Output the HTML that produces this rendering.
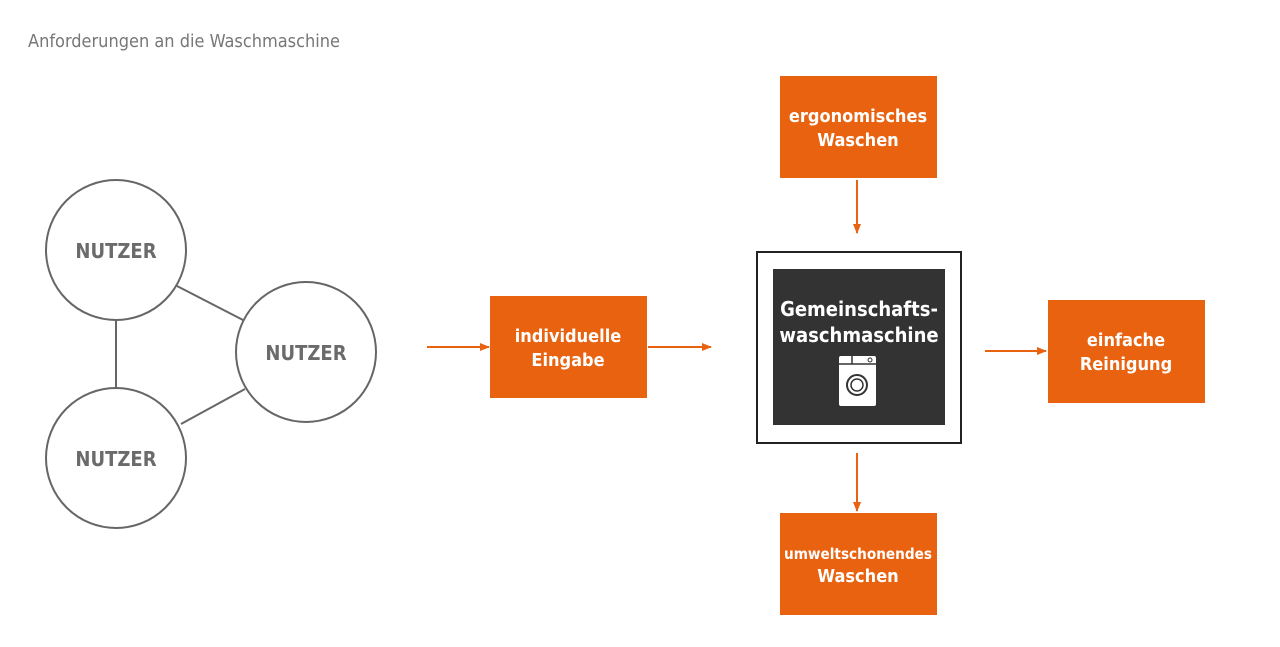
<!DOCTYPE html>
<html><head><style>
body{margin:0;width:1280px;height:643px;background:#fff;overflow:hidden;font-family:"DejaVu Sans Condensed","Liberation Sans",sans-serif}
svg text{font-family:"DejaVu Sans Condensed","Liberation Sans",sans-serif}
</style></head><body>
<svg width="1280" height="643" viewBox="0 0 1280 643">
<defs><marker id="a" markerWidth="10" markerHeight="8" refX="9" refY="4" orient="auto" markerUnits="userSpaceOnUse"><path d="M0,0 L10,4 L0,8 Z" fill="#e8620f"/></marker></defs>
<text x="28" y="47" font-size="18" fill="#777">Anforderungen an die Waschmaschine</text>
<g stroke="#666" stroke-width="2" fill="#fff">
<line x1="116" y1="318" x2="116" y2="390"/>
<line x1="177" y1="286" x2="243" y2="320"/>
<line x1="181" y1="424" x2="245" y2="389"/>
<circle cx="116" cy="250" r="70"/>
<circle cx="306" cy="352" r="70"/>
<circle cx="116" cy="458" r="70"/>
</g>
<g font-size="20" font-weight="bold" fill="#6b6b6b" text-anchor="middle">
<text x="116" y="258">NUTZER</text><text x="306" y="360">NUTZER</text><text x="116" y="466">NUTZER</text>
</g>
<g fill="#e8620f">
<rect x="780" y="76" width="157" height="102"/>
<rect x="490" y="296" width="157" height="102"/>
<rect x="1048" y="300" width="157" height="103"/>
<rect x="780" y="513" width="157" height="102"/>
</g>
<g stroke="#e8620f" stroke-width="2" marker-end="url(#a)">
<line x1="427" y1="347" x2="489" y2="347"/>
<line x1="648" y1="347" x2="711" y2="347"/>
<line x1="857" y1="180" x2="857" y2="233"/>
<line x1="985" y1="351" x2="1046" y2="351"/>
<line x1="857" y1="453" x2="857" y2="511"/>
</g>
<g font-size="18" font-weight="bold" fill="#fff" text-anchor="middle">
<text x="858" y="122">ergonomisches</text><text x="858" y="146">Waschen</text>
<text x="568" y="342">individuelle</text><text x="568" y="366">Eingabe</text>
<text x="1126" y="346">einfache</text><text x="1126" y="370">Reinigung</text>
<text x="858" y="559" font-size="15" textLength="148" lengthAdjust="spacingAndGlyphs">umweltschonendes</text><text x="858" y="582">Waschen</text>
</g>
<rect x="757" y="252" width="204" height="191" fill="#fff" stroke="#222" stroke-width="2"/>
<rect x="773" y="269" width="172" height="156" fill="#333"/>
<g font-size="20" font-weight="bold" fill="#fff" text-anchor="middle">
<text x="859" y="316">Gemeinschafts-</text><text x="859" y="342">waschmaschine</text>
</g>
<rect x="839" y="356" width="37" height="50" rx="2" fill="#fff"/>
<line x1="839" y1="364" x2="876" y2="364" stroke="#333" stroke-width="1.5"/>
<line x1="852" y1="356" x2="852" y2="364" stroke="#333" stroke-width="1.5"/>
<circle cx="857" cy="385" r="10" fill="none" stroke="#333" stroke-width="2"/>
<circle cx="857" cy="385" r="6" fill="none" stroke="#333" stroke-width="1.5"/>
<circle cx="870" cy="360" r="2" fill="none" stroke="#333"/>
</svg>
</body></html>
